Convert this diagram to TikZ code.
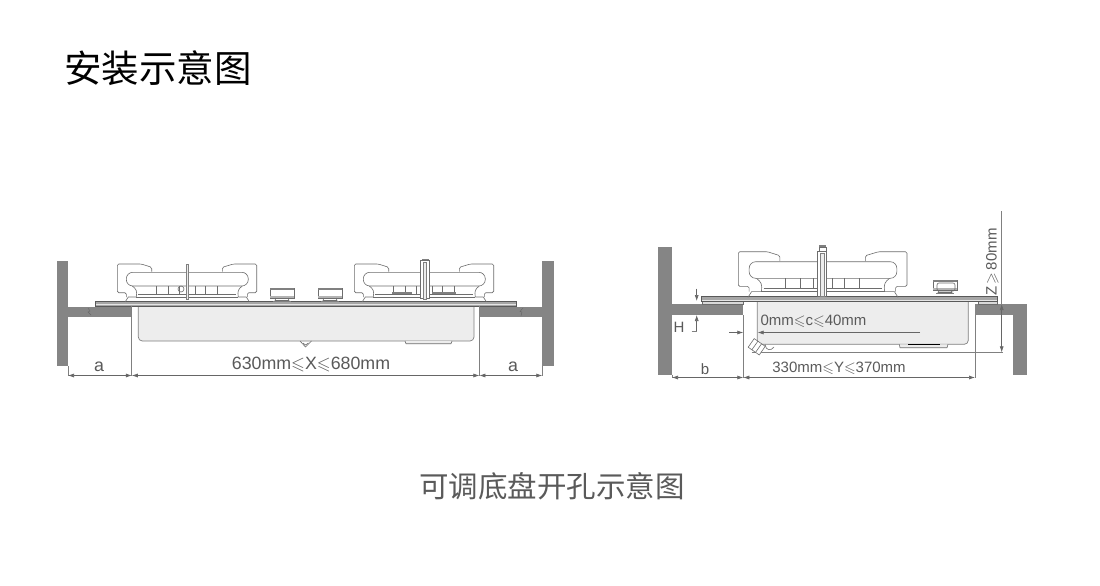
\documentclass[tikz,border=0pt]{standalone}
\usepackage{amssymb}
\usepackage{fontspec}
\setmainfont{Liberation Sans}
\newfontfamily\cjk{Noto Sans CJK SC}
\usetikzlibrary{arrows.meta}
\definecolor{wallgray}{HTML}{858585}
\definecolor{linegray}{HTML}{808080}
\definecolor{basingray}{HTML}{EDEDED}
\definecolor{textgray}{HTML}{5A5A5A}
\newcommand{\leqs}{{\mathord{\leqslant}}}
\tikzset{
  wall/.style={fill=wallgray,draw=none},
  thinline/.style={draw=linegray,line width=0.7pt},
  hobline/.style={draw=linegray!85!black,line width=0.6pt},
  glass/.style={fill=linegray!70,draw=black!65,line width=0.7pt},
  basin/.style={fill=basingray,draw=linegray,line width=0.7pt},
  dimline/.style={draw=black!60,line width=0.6pt,{Latex[length=6pt,width=4pt]}-{Latex[length=6pt,width=4pt]}},
  onetip/.style={draw=black!60,line width=0.6pt,-{Latex[length=6pt,width=4pt]}},
  dimtext/.style={text=textgray,inner sep=0pt},
  burner/.pic={
    \draw[hobline,rounded corners=1.5pt] (34.4,7.7) -- (34.4,3.3) -- (24,0) -- (0,0) -- (0,28.7) -- (9,28.7) -- (9,33);
    \draw[hobline,rounded corners=1.5pt] (105,7.7) -- (105,3.3) -- (116,0) -- (139.4,0) -- (139.4,28.7) -- (130,28.7) -- (130,33);
    \draw[hobline,rounded corners=6.5pt] (9,8.3) rectangle (131,22);
    \draw[hobline] (15,22) .. controls (19,25) and (20,27) .. (19,33);
    \draw[hobline] (125,22) .. controls (121,25) and (120,27) .. (121,33);
    \draw[hobline] (21,30.5) -- (119,30.5);
    \draw[hobline] (8,37.7) -- (11,33) -- (19,33);
    \draw[hobline] (132,37.7) -- (129,33) -- (121,33);
    \draw[hobline] (19,33) -- (121,33);
    \foreach \xpos in {39,51,62,78,88,100}
      \draw[hobline] (\xpos,22) -- (\xpos,30.5);
  },
  knob/.pic={
    \draw[hobline,fill=white] (0,0) rectangle (24,10);
    \fill[linegray] (0,0) rectangle (24,2);
    \fill[linegray!60] (0,8) rectangle (24,10);
    \draw[hobline] (6,10) -- (5,12.5) -- (19,12.5) -- (18,10);
    \fill[linegray] (3,12.5) rectangle (21,14);
  }
}
\begin{document}
\begin{tikzpicture}[x=1pt,y=-1pt]
\useasboundingbox[fill=white] (0,0) rectangle (1100,586);

\node[font=\cjk,anchor=center] (title) at (158,68) {\fontsize{37.5}{40}\selectfont 安装示意图};
\node[font=\cjk,text=textgray,anchor=center] (caption) at (552,486) {\fontsize{29.5}{32}\selectfont 可调底盘开孔示意图};

% left view
\path[basin,rounded corners=4pt] (138.3,306) -- (138.3,341) -- (474,341) -- (474,306);
\path[hobline,fill=basingray] (405,341) -- (406,343.7) -- (451,343.7) -- (452,341);
\path[hobline] (300,341) -- (305.5,347) -- (311.5,341);
\path[hobline] (303,343) -- (305.5,345) -- (308.5,343);
\path[wall] (56.5,261) rectangle (68,366);
\path[wall] (68,307) rectangle (132,317);
\path[wall] (480,307) rectangle (542.3,317);
\path[wall] (542.3,261) rectangle (553.7,366);
\path[draw=black!60,line width=0.4pt] (88,308) -- (90,311) -- (88,312) -- (91,315);
\path[draw=black!60,line width=0.4pt] (521,316) -- (522,312) -- (520,311.5) -- (523,308);
\path[glass] (95,301.7) rectangle (516.7,306);
\path[draw=white!80!gray,line width=0.8pt] (96,304.6) -- (516,304.6);

\pic at (117.3,264) {burner};
\pic at (354.3,264) {burner};
\path[hobline] (181,289) circle (3pt);
\path[draw=linegray,fill=white!85!gray,line width=0.6pt] (185.8,264) rectangle (188,299);
\path[draw=linegray,line width=1.2pt] (392,293) -- (412,293);
\path[draw=linegray,line width=1.2pt] (432,293) -- (456,293);
\path[hobline,fill=white] (420.7,260) rectangle (429.3,298);
\path[draw=linegray,fill=white!85!gray,line width=0.6pt] (423,262) rectangle (426,299);
\path[fill=linegray] (421.5,258.5) rectangle (428.5,260);
\pic at (270,288) {knob};
\pic at (318,288) {knob};

\coordinate (wallL) at (68,375.5);
\coordinate (edgeL) at (131.8,375.5);
\coordinate (edgeR) at (479.4,375.5);
\coordinate (wallR) at (542.3,375.5);
\path[thinline] (68,366) -- (wallL);
\path[thinline] (131.8,306) -- (edgeL);
\path[thinline] (479.4,306) -- (edgeR);
\path[thinline] (542.3,366) -- (wallR);
\path[dimline] (wallL) -- (edgeL);
\path[dimline] (edgeL) -- (edgeR);
\path[dimline] (edgeR) -- (wallR);
\node[dimtext,font=\fontsize{17.8}{20}\selectfont] (aL) at (99,366.5) {a};
\node[dimtext,font=\fontsize{17.8}{20}\selectfont] (aR) at (513,366.5) {a};
\node[dimtext,font=\fontsize{17.8}{20}\selectfont] (rangeX) at (311,364.5) {630mm$\leqs$X$\leqs$680mm};

% right view
\path[basin,rounded corners=4pt] (757.3,302) -- (757.3,344.3) -- (968.3,344.3) -- (968.3,302);
\path[hobline,fill=basingray] (899.3,344.3) -- (900,347.7) -- (947,347.7) -- (948,344.3);
\path[draw=black,line width=0.9pt] (908,344.6) -- (940,344.6);
\path[thinline] (751.7,352.3) -- (1003,352.3);
\path[hobline,fill=white,rotate around={-35:(756.7,346.7)}] (750,341.5) rectangle (763.5,352);
\path[hobline,rotate around={-35:(756.7,346.7)}] (754.5,341.5) -- (754.5,352);
\path[hobline,rotate around={-35:(756.7,346.7)}] (759,341.5) -- (759,352);
\path[hobline] (765,344.5) .. controls (766,351) and (771,351) .. (774,347);
\path[wall] (657.7,247) rectangle (672,374.7);
\path[wall] (672,304) rectangle (743.3,315);
\path[wall] (975,304) rectangle (1026.7,315);
\path[wall] (1013.3,315) rectangle (1026.7,374.7);
\path[hobline,fill=linegray!30] (702,301.7) rectangle (743,304);
\path[hobline,fill=linegray!30] (978,301.7) rectangle (997,304);
\path[glass] (701,296.7) rectangle (997.8,301.7);
\path[draw=white!80!gray,line width=0.8pt] (702,300) -- (997,300);

\pic[scale=1.21] at (738.3,251.7) {burner};
\path[hobline,fill=white] (817.7,251) rectangle (826.7,296);
\path[draw=linegray,fill=white!85!gray,line width=0.6pt] (820,253) rectangle (824,296);
\path[fill=linegray] (819,244.7) rectangle (826,246.7);
\path[hobline] (819,247) rectangle (826,251);
\pic at (933,280) {knob};
\path[hobline,rounded corners=2pt] (937,283) rectangle (955,291);

\coordinate (wallB) at (672,377.5);
\coordinate (edgeB) at (743.3,377.5);
\coordinate (edgeY) at (975,377.5);
\coordinate (topH) at (696.7,301);
\coordinate (aboveH) at (696.7,288.5);
\coordinate (shelfH) at (696.7,315);
\coordinate (belowH) at (696.7,331.7);
\coordinate (stubC) at (729,332.5);
\coordinate (wallC) at (743.3,332.5);
\coordinate (basinC) at (757.6,332.5);
\coordinate (endC) at (920,332.5);
\coordinate (topZ) at (1001.7,304);
\coordinate (endZ) at (1001.7,352.3);
\coordinate (lineZ) at (1001.7,211);
\path[thinline] (672,374.7) -- (wallB);
\path[thinline] (743.3,315) -- (edgeB);
\path[thinline] (975,315) -- (edgeY);
\path[dimline] (wallB) -- (edgeB);
\path[dimline] (edgeB) -- (edgeY);
\path[onetip] (aboveH) -- (topH);
\path[onetip] (belowH) -- (shelfH);
\path[thinline] (691.5,331.7) -- (belowH);
\path[onetip] (stubC) -- (wallC);
\path[onetip] (endC) -- (basinC);
\path[thinline] (lineZ) -- (topZ);
\path[dimline] (topZ) -- (endZ);

\node[dimtext,font=\fontsize{15}{17}\selectfont] (labH) at (679,327.5) {H};
\node[dimtext,font=\fontsize{15}{17}\selectfont] (labB) at (705,369.5) {b};
\node[dimtext,font=\fontsize{15}{17}\selectfont] (rangeC) at (813.5,321.5) {0mm$\leqs$c$\leqs$40mm};
\node[dimtext,font=\fontsize{15}{17}\selectfont] (rangeY) at (839,368) {330mm$\leqs$Y$\leqs$370mm};
\node[dimtext,rotate=90,font=\fontsize{15}{17}\selectfont] (rangeZ) at (992.5,262) {Z$\,{\geqslant}\,$80mm};
\end{tikzpicture}
\end{document}
